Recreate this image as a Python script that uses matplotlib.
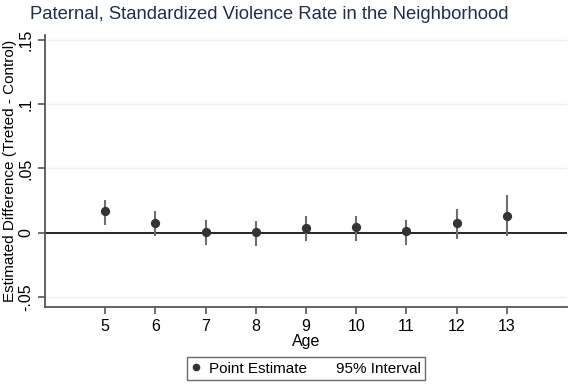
import numpy as np
import matplotlib
matplotlib.use('Agg')
import matplotlib.pyplot as plt
from matplotlib.lines import Line2D

ages = [5, 6, 7, 8, 9, 10, 11, 12, 13]
estimate = [0.0171, 0.0072, 0.0005, 0.0005, 0.0036, 0.0041, 0.0013, 0.0072, 0.0132]
ci_low = [0.0057, -0.0029, -0.0099, -0.0101, -0.0067, -0.0067, -0.0099, -0.0049, -0.0029]
ci_high = [0.0251, 0.0170, 0.0101, 0.0093, 0.0132, 0.0132, 0.0101, 0.0187, 0.0296]
yticks = [-0.05, 0, 0.05, 0.1, 0.15]
ytick_labels = ['-.05', '0', '.05', '.1', '.15']

plt.rcParams['font.family'] = ['Liberation Sans', 'DejaVu Sans']

fig = plt.figure(figsize=(5.81, 3.85), dpi=100)
ax = fig.add_axes([0.0775, 0.2026, 0.8985, 0.707])

ax.axhline(0, color='black', lw=1.2, zorder=1)
ax.vlines(ages, ci_low, ci_high, color='#6e6e6e', lw=1.5, zorder=2)
ax.scatter(ages, estimate, s=32, color='#333333', zorder=3)

ax.set_xlim(3.8, 14.2)
ax.set_ylim(-0.0578, 0.1539)
ax.set_xticks(ages)
ax.set_yticks(yticks)
ax.set_yticklabels(ytick_labels, rotation=90, va='center')
for t in yticks:
    if t != 0:
        ax.axhline(t, color='#e8f0f1', lw=1, zorder=0)

for s in ['top', 'right']:
    ax.spines[s].set_visible(False)
for s in ['left', 'bottom']:
    ax.spines[s].set_color('#555555')
    ax.spines[s].set_linewidth(1.3)
ax.tick_params(axis='both', colors='#555555', length=5, width=1.2,
               labelcolor='black', labelsize=11.5)

ax.set_xlabel('Age', fontsize=11.5, labelpad=0)
ax.set_ylabel('Estimated Difference (Treted - Control)', fontsize=11, labelpad=1)
fig.text(0.052, 0.963, 'Paternal, Standardized Violence Rate in the Neighborhood',
         fontsize=13.3, color='#1f2d4e', va='center', ha='left')

handles = [Line2D([], [], marker='o', color='#333333', linestyle='none', markersize=4.5),
           Line2D([], [], color='none')]
leg = fig.legend(handles, ['Point Estimate', '95% Interval'], loc='center',
                 bbox_to_anchor=(0.527, 0.042), ncol=2, fontsize=11,
                 frameon=True, fancybox=False, handlelength=0.6,
                 columnspacing=0.8, handletextpad=0.5, borderpad=0.3)
leg.get_frame().set_edgecolor('#444444')
leg.get_frame().set_linewidth(1.0)

fig.savefig('out.png', dpi=100)
